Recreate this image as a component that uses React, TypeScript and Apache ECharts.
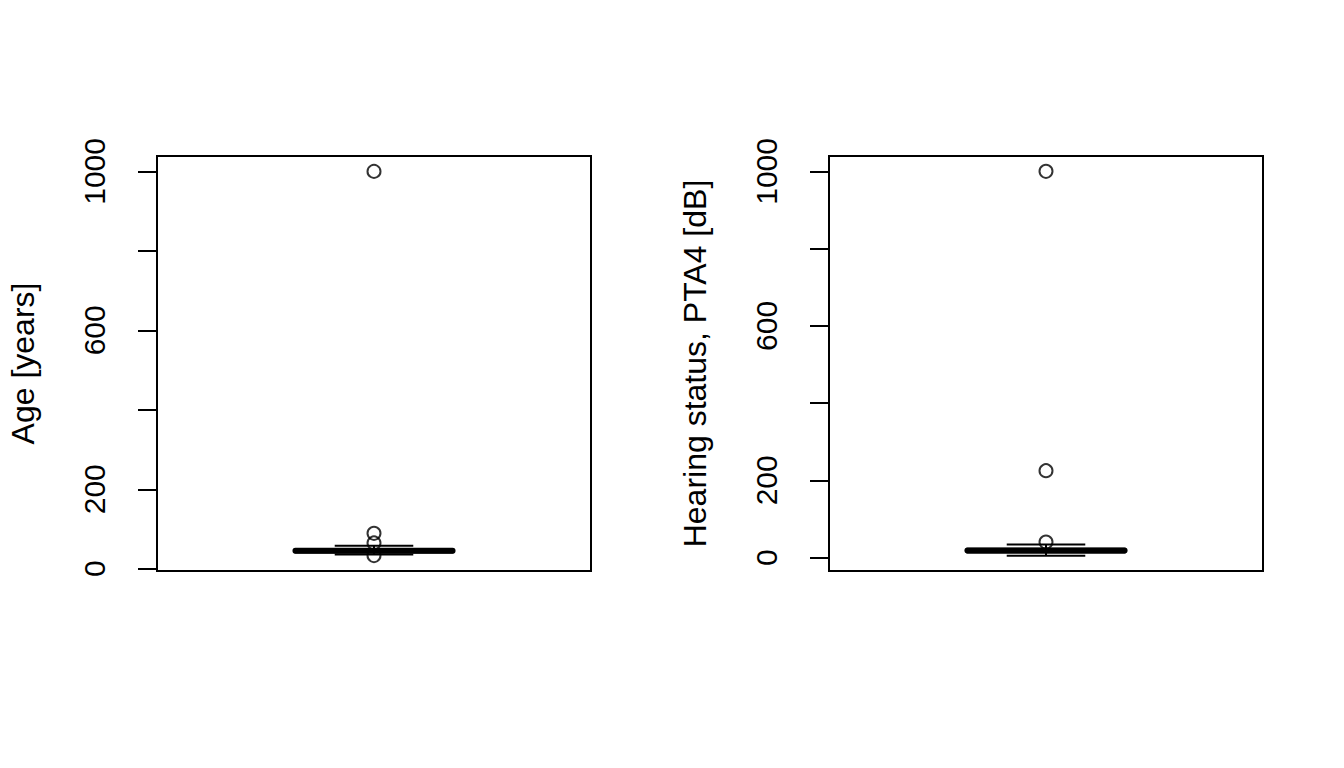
import React, { useEffect, useRef } from "react";
import * as echarts from "echarts";

// Panel titles (y-axis labels)
const panelTitles = ["Age [years]", "Hearing status, PTA4 [dB]"];
// Box statistics: [lower whisker, Q1, median, Q3, upper whisker]
const ageBox = [36, 41, 45, 49, 58];
const ageOutliers = [1000, 89, 65, 33];
const ptaBox = [5, 13, 18, 23, 34];
const ptaOutliers = [1000, 225, 40];
// Axis ticks / labels
const tickValues = [0, 200, 400, 600, 800, 1000];
const labelValues = [0, 200, 600, 1000];
// Axis ranges (R style 4% extension)
const ageRange = [-5.7, 1038.7];
const ptaRange = [-34.8, 1039.8];

const FONT = "'Liberation Sans', Arial, sans-serif";

function renderBox(params: any, api: any) {
  const lo = api.value(1);
  const q1 = api.value(2);
  const med = api.value(3);
  const q3 = api.value(4);
  const hi = api.value(5);
  const cx = api.coord([api.value(0), med])[0];
  const band = api.size([1, 0])[0];
  const hw = band * 0.181;
  const cw = hw * 0.5;
  const y = (v: number) => api.coord([api.value(0), v])[1];
  const stroke = { stroke: "#000", lineWidth: 2, fill: null };
  return {
    type: "group",
    children: [
      { type: "line", shape: { x1: cx, y1: y(q3), x2: cx, y2: y(hi) }, style: { ...stroke, lineDash: [6, 6] } },
      { type: "line", shape: { x1: cx, y1: y(q1), x2: cx, y2: y(lo) }, style: { ...stroke, lineDash: [6, 6] } },
      { type: "line", shape: { x1: cx - cw, y1: y(hi), x2: cx + cw, y2: y(hi) }, style: stroke },
      { type: "line", shape: { x1: cx - cw, y1: y(lo), x2: cx + cw, y2: y(lo) }, style: stroke },
      { type: "rect", shape: { x: cx - hw, y: y(q3), width: 2 * hw, height: y(q1) - y(q3) }, style: { stroke: "#000", lineWidth: 2, fill: "#fff" } },
      { type: "line", shape: { x1: cx - hw, y1: y(med), x2: cx + hw, y2: y(med) }, style: { stroke: "#000", lineWidth: 6, lineCap: "round" } },
    ],
  };
}

function yAxisFor(range: number[], title: string, idx: number) {
  return {
    type: "value",
    gridIndex: idx,
    min: range[0],
    max: range[1],
    name: title,
    nameLocation: "middle",
    nameRotate: 90,
    nameGap: 118,
    nameTextStyle: { color: "#000", fontSize: 32, fontFamily: FONT },
    axisLine: { show: true, lineStyle: { color: "#000", width: 2 } },
    axisTick: { show: true, length: 19, lineStyle: { color: "#000", width: 2 }, customValues: tickValues },
    axisLabel: {
      show: true, rotate: 90, margin: 48, color: "#000", fontSize: 30, fontFamily: FONT,
      customValues: labelValues, formatter: (v: number) => String(Math.round(v)),
    },
    splitLine: { show: false },
  };
}

export default function App() {
  const ref = useRef<HTMLDivElement>(null);
  useEffect(() => {
    if (!ref.current) return;
    const chart = echarts.init(ref.current, null, { renderer: "svg" });
    const grids = [
      { left: 157, top: 156, width: 434, height: 415 },
      { left: 829, top: 156, width: 434, height: 415 },
    ];
    chart.setOption({
      animation: false,
      backgroundColor: "#fff",
      grid: grids.map((g) => ({ ...g, show: true, borderColor: "#000", borderWidth: 2, backgroundColor: "transparent" })),
      xAxis: [0, 1].map((i) => ({ type: "category", gridIndex: i, data: ["1"], show: false })),
      yAxis: [yAxisFor(ageRange, panelTitles[0], 0), yAxisFor(ptaRange, panelTitles[1], 1)],
      series: [
        { type: "custom", xAxisIndex: 0, yAxisIndex: 0, renderItem: renderBox, data: [[0, ...ageBox]], encode: { x: 0, y: [1, 2, 3, 4, 5] } },
        { type: "custom", xAxisIndex: 1, yAxisIndex: 1, renderItem: renderBox, data: [[0, ...ptaBox]], encode: { x: 0, y: [1, 2, 3, 4, 5] } },
        {
          type: "scatter", xAxisIndex: 0, yAxisIndex: 0, symbol: "circle", symbolSize: 13,
          itemStyle: { color: "transparent", borderColor: "#000", borderWidth: 2 },
          data: ageOutliers.map((v) => [0, v]),
        },
        {
          type: "scatter", xAxisIndex: 1, yAxisIndex: 1, symbol: "circle", symbolSize: 13,
          itemStyle: { color: "transparent", borderColor: "#000", borderWidth: 2 },
          data: ptaOutliers.map((v) => [0, v]),
        },
      ],
    });
    return () => chart.dispose();
  }, []);
  return <div ref={ref} style={{ position: "absolute", left: 0, top: 0, width: 1344, height: 768 }} />;
}
